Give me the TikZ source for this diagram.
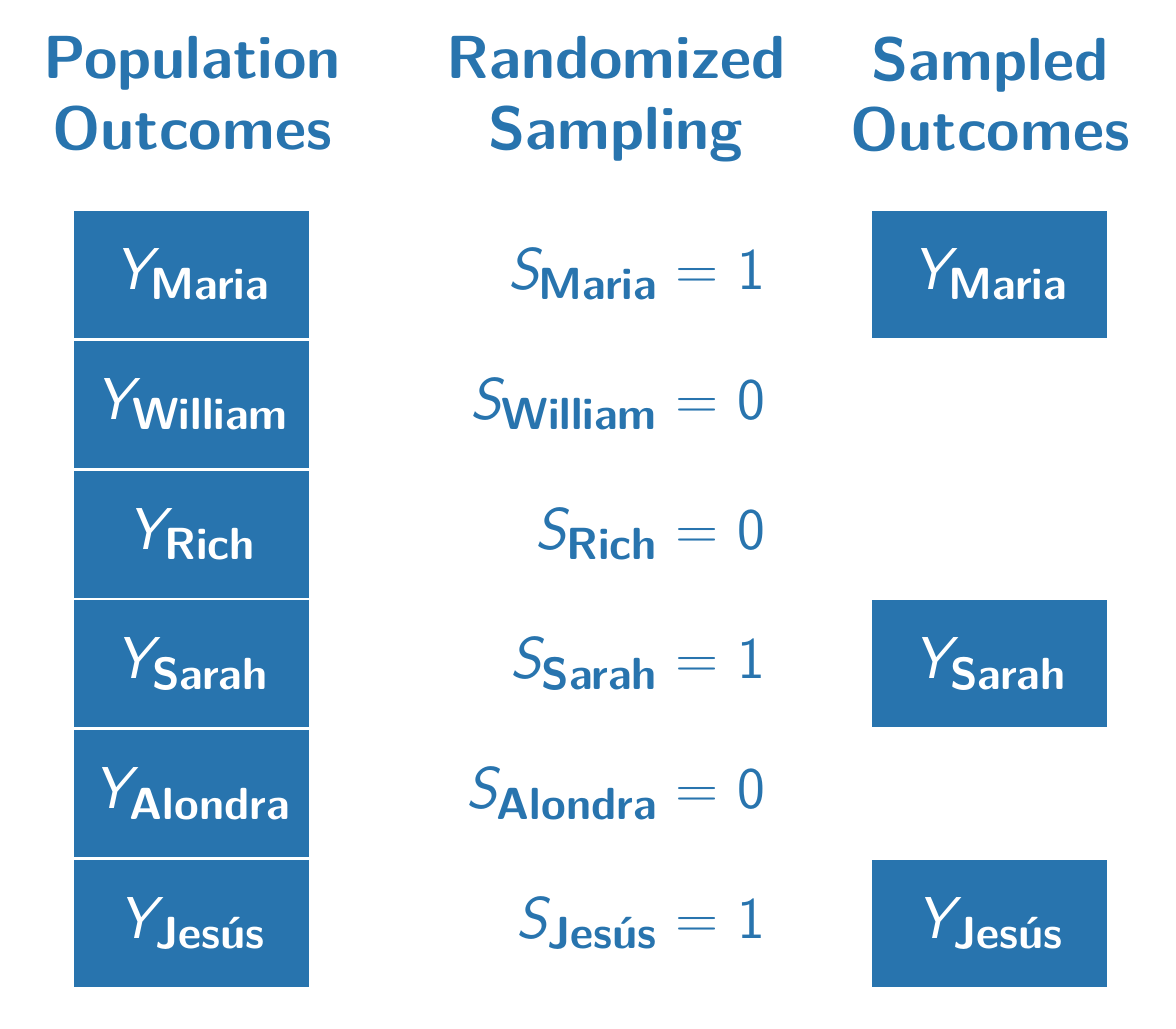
\documentclass[tikz,border=0pt]{standalone}
\usetikzlibrary{positioning}
\definecolor{popblue}{HTML}{2874AE}
% unit variable with bold sans subscript
\newcommand{\unitvar}[2]{{\slshape #1}\raisebox{-2.9pt}{\fontsize{12.8}{14}\selectfont\bfseries #2}}

\begin{document}
\begin{tikzpicture}[
    header/.style={align=center, inner sep=0pt, anchor=north, text=popblue, font=\sffamily\bfseries\fontsize{17.3}{20}\selectfont},
    unitbox/.style={rectangle, fill=popblue, text=white, minimum width=2.35cm, minimum height=1.27cm, inner sep=0pt, outer sep=0pt, font=\sffamily\fontsize{16.8}{18}\selectfont},
    sampling/.style={anchor=base east, inner sep=0pt, text=popblue, font=\sffamily\fontsize{16.8}{18}\selectfont}
]
\useasboundingbox (0,0) rectangle (11.76,-10.28);

% Headers
\node (hPop) [header] at (1.92,-0.36) {Population\\Outcomes};
\node (hSamp) [header] at (6.16,-0.36) {Randomized\\Sampling};
\node (hOut) [header] at (9.90,-0.36) {Sampled\\Outcomes};

% Population outcomes
\node (popMaria) [unitbox, anchor=north] at (1.915,-2.11) {\unitvar{Y}{Maria}};
\node (popWilliam) [unitbox, below=0.028cm of popMaria] {\unitvar{Y}{William}};
\node (popRich) [unitbox, below=0.028cm of popWilliam] {\unitvar{Y}{Rich}};
\node (popSarah) [unitbox, below=0.028cm of popRich] {\unitvar{Y}{Sarah}};
\node (popAlondra) [unitbox, below=0.028cm of popSarah] {\unitvar{Y}{Alondra}};
\node (popJesus) [unitbox, below=0.028cm of popAlondra] {\unitvar{Y}{Jesús}};

% Randomized sampling
\coordinate (midcol) at (7.655,0);
\node (sMaria) [sampling] at (popMaria.base -| midcol) {\unitvar{S}{Maria} = 1};
\node (sWilliam) [sampling] at (popWilliam.base -| midcol) {\unitvar{S}{William} = 0};
\node (sRich) [sampling] at (popRich.base -| midcol) {\unitvar{S}{Rich} = 0};
\node (sSarah) [sampling] at (popSarah.base -| midcol) {\unitvar{S}{Sarah} = 1};
\node (sAlondra) [sampling] at (popAlondra.base -| midcol) {\unitvar{S}{Alondra} = 0};
\node (sJesus) [sampling] at (popJesus.base -| midcol) {\unitvar{S}{Jesús} = 1};

% Sampled outcomes
\coordinate (outcol) at (9.895,0);
\node (outMaria) [unitbox] at (popMaria -| outcol) {\unitvar{Y}{Maria}};
\node (outSarah) [unitbox] at (popSarah -| outcol) {\unitvar{Y}{Sarah}};
\node (outJesus) [unitbox] at (popJesus -| outcol) {\unitvar{Y}{Jesús}};

\end{tikzpicture}
\end{document}
